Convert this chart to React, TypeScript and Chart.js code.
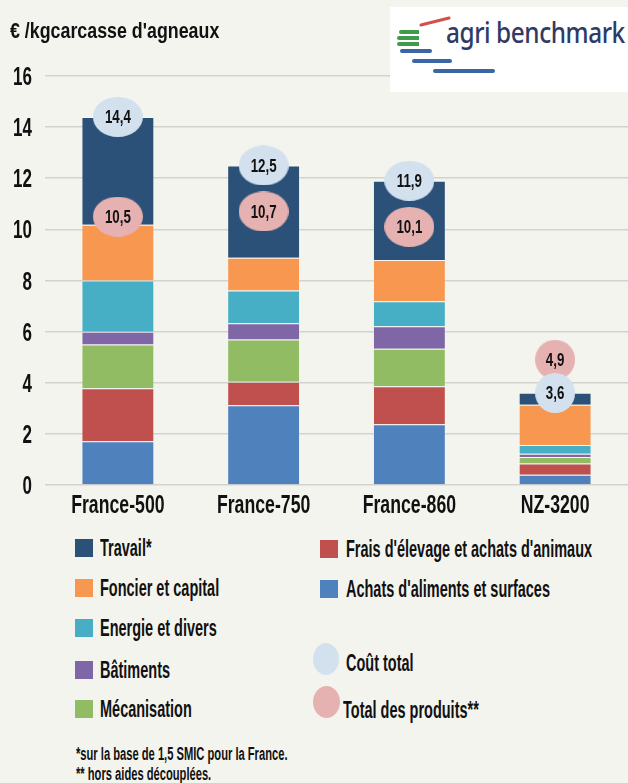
import React, { useEffect, useRef } from 'react';
import { Chart, registerables } from 'chart.js';

Chart.register(...registerables);

// ---- data ----
const categories = ['France-500', 'France-750', 'France-860', 'NZ-3200'];
const achatsAliments = [1.71, 3.12, 2.38, 0.4];
const fraisElevage = [2.07, 0.92, 1.48, 0.44];
const mecanisation = [1.72, 1.65, 1.47, 0.26];
const batiments = [0.5, 0.64, 0.88, 0.12];
const energieDivers = [2.0, 1.28, 0.98, 0.34];
const foncierCapital = [2.18, 1.28, 1.61, 1.58];
const travail = [4.22, 3.61, 3.1, 0.47];
const coutTotal = [14.4, 12.5, 11.9, 3.6];
const totalProduits = [10.5, 10.7, 10.1, 4.9];
const yTickValues = [0, 2, 4, 6, 8, 10, 12, 14, 16];

const seriesNames = [
  "Achats d'aliments et surfaces",
  "Frais d'élevage et achats d'animaux",
  'Mécanisation',
  'Bâtiments',
  'Energie et divers',
  'Foncier et capital',
  'Travail*',
];
const seriesValues = [achatsAliments, fraisElevage, mecanisation, batiments, energieDivers, foncierCapital, travail];
const seriesColors = ['#4f81bd', '#c0504d', '#92bc63', '#7f66a6', '#46afc6', '#f79750', '#2b5178'];

const COUT_NAME = 'Coût total';
const PROD_NAME = 'Total des produits**';
const COUT_COLOR = '#d3e1ef';
const PROD_COLOR = '#e6b2b1';

const BG = '#f4f4ee';
const FONT = '"Liberation Sans", Arial, sans-serif';
const SQUEEZE = 0.68;

const fmt = (v: number) => v.toFixed(1).replace('.', ',');

function makeEllipse(w: number, h: number, color: string): HTMLCanvasElement {
  const c = document.createElement('canvas');
  c.width = w;
  c.height = h;
  const ctx = c.getContext('2d')!;
  ctx.fillStyle = color;
  ctx.beginPath();
  ctx.ellipse(w / 2, h / 2, w / 2, h / 2, 0, 0, Math.PI * 2);
  ctx.fill();
  return c;
}

function squeezedText(ctx: any, text: string, x: number, y: number, sx: number) {
  ctx.save();
  ctx.translate(x, y);
  ctx.scale(sx, 1);
  ctx.fillText(text, 0, 0);
  ctx.restore();
}

const ellipseLabelPlugin = {
  id: 'ellipseLabels',
  afterDatasetDraw(chart: any, args: any) {
    const ds = chart.data.datasets[args.index];
    if (!ds.isEllipse) return;
    const ctx = chart.ctx;
    ctx.save();
    ctx.font = `bold 18px ${FONT}`;
    ctx.fillStyle = '#111';
    ctx.textAlign = 'center';
    ctx.textBaseline = 'alphabetic';
    args.meta.data.forEach((el: any, i: number) => {
      squeezedText(ctx, fmt(ds.data[i]), el.x, el.y + 6.5, 0.74);
    });
    ctx.restore();
  },
};

// condensed tick labels, positioned from the chart's own scales
const condensedTicksPlugin = {
  id: 'condensedTicks',
  afterDraw(chart: any) {
    const ctx = chart.ctx;
    const xs = chart.scales.x;
    const ys = chart.scales.y;
    ctx.save();
    ctx.fillStyle = '#111';
    ctx.textBaseline = 'alphabetic';
    ctx.font = `bold 26px ${FONT}`;
    ctx.textAlign = 'center';
    xs.ticks.forEach((t: any, i: number) => {
      squeezedText(ctx, String(xs.getLabelForValue(t.value)), xs.getPixelForTick(i), xs.top + 28, SQUEEZE);
    });
    ctx.font = `bold 25px ${FONT}`;
    ctx.textAlign = 'right';
    ys.ticks.forEach((t: any) => {
      squeezedText(ctx, String(t.value), ys.right - 13, ys.getPixelForValue(t.value) + 9, SQUEEZE);
    });
    ctx.restore();
  },
};

function Label(props: { x: number; cy: number; size: number; scale?: number; text: string }) {
  const { x, cy, size, scale = 1, text } = props;
  return (
    <div
      style={{
        position: 'absolute',
        left: x,
        top: cy - size / 2,
        height: size,
        lineHeight: `${size}px`,
        fontSize: size,
        fontWeight: 'bold',
        whiteSpace: 'nowrap',
        color: '#111',
        transform: `scaleX(${scale})`,
        transformOrigin: 'left center',
      }}
    >
      {text}
    </div>
  );
}

export default function App() {
  const ref = useRef<HTMLCanvasElement>(null);

  useEffect(() => {
    if (!ref.current) return;
    const ellCache: Record<string, HTMLCanvasElement> = {};
    const ellFor = (v: number, color: string) => {
      const w = fmt(v).length > 3 ? 50 : 40;
      const key = color + w;
      if (!ellCache[key]) ellCache[key] = makeEllipse(w, 40, color);
      return ellCache[key];
    };

    const barSets = seriesNames.map((name, i) => ({
      type: 'bar' as const,
      label: name,
      data: seriesValues[i],
      backgroundColor: seriesColors[i],
      borderColor: 'rgba(255,255,255,0.25)',
      borderWidth: 1,
      order: 10,
      stack: 'costs',
    }));

    const chart = new Chart(ref.current, {
      type: 'bar',
      data: {
        labels: categories,
        datasets: [
          ...barSets,
          {
            type: 'line' as const,
            label: PROD_NAME,
            data: totalProduits,
            showLine: false,
            pointRadius: 20,
            pointStyle: (c: any) => ellFor(totalProduits[c.dataIndex] ?? 10, PROD_COLOR),
            stack: 'prod',
            order: 2,
            isEllipse: true,
          } as any,
          {
            type: 'line' as const,
            label: COUT_NAME,
            data: coutTotal,
            showLine: false,
            pointRadius: 20,
            pointStyle: (c: any) => ellFor(coutTotal[c.dataIndex] ?? 10, COUT_COLOR),
            stack: 'cout',
            order: 1,
            isEllipse: true,
          } as any,
        ],
      },
      options: {
        responsive: false,
        animation: false,
        layout: { autoPadding: false, padding: { top: 76, left: 0, right: 0, bottom: 0 } },
        plugins: { legend: { display: false }, tooltip: { enabled: false }, title: { display: false } },
        datasets: { bar: { categoryPercentage: 1, barPercentage: 0.5 } },
        scales: {
          x: {
            stacked: true,
            grid: { display: false, drawTicks: false },
            border: { display: false },
            ticks: { display: false, autoSkip: false, maxRotation: 0, minRotation: 0 },
            afterFit: (s: any) => {
              s.height = 40;
            },
          },
          y: {
            stacked: true,
            min: 0,
            max: 16,
            afterBuildTicks: (s: any) => {
              s.ticks = yTickValues.map((v) => ({ value: v }));
            },
            grid: { color: '#d2d2cf', lineWidth: 1.6, drawTicks: false },
            border: { display: false },
            ticks: { display: false },
            afterFit: (s: any) => {
              s.width = 45;
            },
          },
        },
      } as any,
      plugins: [ellipseLabelPlugin, condensedTicksPlugin],
    });
    return () => chart.destroy();
  }, []);

  const leftLegend = [6, 5, 4, 3, 2];
  const leftCy = [548, 588, 628, 670, 709];
  const rightLegend = [1, 0];
  const rightCy = [549, 589];
  const LS = 0.63;

  return (
    <div
      style={{
        position: 'absolute',
        left: 0,
        top: 0,
        width: 628,
        height: 783,
        background: BG,
        overflow: 'hidden',
        fontFamily: FONT,
      }}
    >
      <canvas ref={ref} width={628} height={525} style={{ position: 'absolute', left: 0, top: 0 }} />

      <Label x={10} cy={31} size={22} scale={0.81} text="€ /kgcarcasse d'agneaux" />

      {/* logo */}
      <div style={{ position: 'absolute', left: 390, top: 7, width: 238, height: 85, background: '#ffffff' }}>
        <div style={{ position: 'absolute', left: 29, top: 13, width: 32, height: 3, background: '#d6504a', transform: 'rotate(-14deg)', borderRadius: 2 }} />
        <div style={{ position: 'absolute', left: 9, top: 23, width: 20, height: 4, background: '#3f9c4c', borderRadius: '3px 0 0 3px' }} />
        <div style={{ position: 'absolute', left: 7, top: 29, width: 22, height: 4, background: '#3f9c4c', borderRadius: '3px 0 0 3px' }} />
        <div style={{ position: 'absolute', left: 7, top: 35, width: 22, height: 4, background: '#3f9c4c', borderRadius: '3px 0 0 3px' }} />
        <div style={{ position: 'absolute', left: 10, top: 42, width: 32, height: 4, background: '#3b66a6', borderRadius: 3 }} />
        <div style={{ position: 'absolute', left: 22, top: 52, width: 40, height: 4, background: '#3b66a6', borderRadius: 3 }} />
        <div style={{ position: 'absolute', left: 43, top: 62, width: 62, height: 4, background: '#3b66a6', borderRadius: 3 }} />
        <div
          style={{
            position: 'absolute',
            left: 56,
            top: 11,
            height: 28,
            lineHeight: '28px',
            fontFamily: '"Noto Sans", "DejaVu Sans", sans-serif',
            fontSize: 28,
            fontWeight: 500,
            color: '#2f3b66',
            whiteSpace: 'nowrap',
            letterSpacing: -0.5,
            transform: 'scaleX(0.87)',
            transformOrigin: 'left center',
          }}
        >
          agri benchmark
        </div>
      </div>

      {/* legend */}
      {leftLegend.map((si, k) => (
        <React.Fragment key={'l' + si}>
          <div style={{ position: 'absolute', left: 75, top: leftCy[k] - 9, width: 18, height: 18, background: seriesColors[si] }} />
          <Label x={100} cy={leftCy[k]} size={23} scale={LS} text={seriesNames[si]} />
        </React.Fragment>
      ))}
      {rightLegend.map((si, k) => (
        <React.Fragment key={'r' + si}>
          <div style={{ position: 'absolute', left: 320, top: rightCy[k] - 9, width: 18, height: 18, background: seriesColors[si] }} />
          <Label x={346} cy={rightCy[k]} size={23} scale={LS} text={seriesNames[si]} />
        </React.Fragment>
      ))}
      <div style={{ position: 'absolute', left: 313, top: 643, width: 26, height: 32, borderRadius: '50%', background: COUT_COLOR }} />
      <Label x={346} cy={663} size={23} scale={LS} text={COUT_NAME} />
      <div style={{ position: 'absolute', left: 313, top: 686, width: 27, height: 32, borderRadius: '50%', background: PROD_COLOR }} />
      <Label x={343} cy={710} size={23} scale={LS} text={PROD_NAME} />

      <Label x={76} cy={754} size={18} scale={0.62} text="*sur la base de 1,5 SMIC pour la France." />
      <Label x={76} cy={774} size={18} scale={0.62} text="** hors aides découplées." />
    </div>
  );
}
